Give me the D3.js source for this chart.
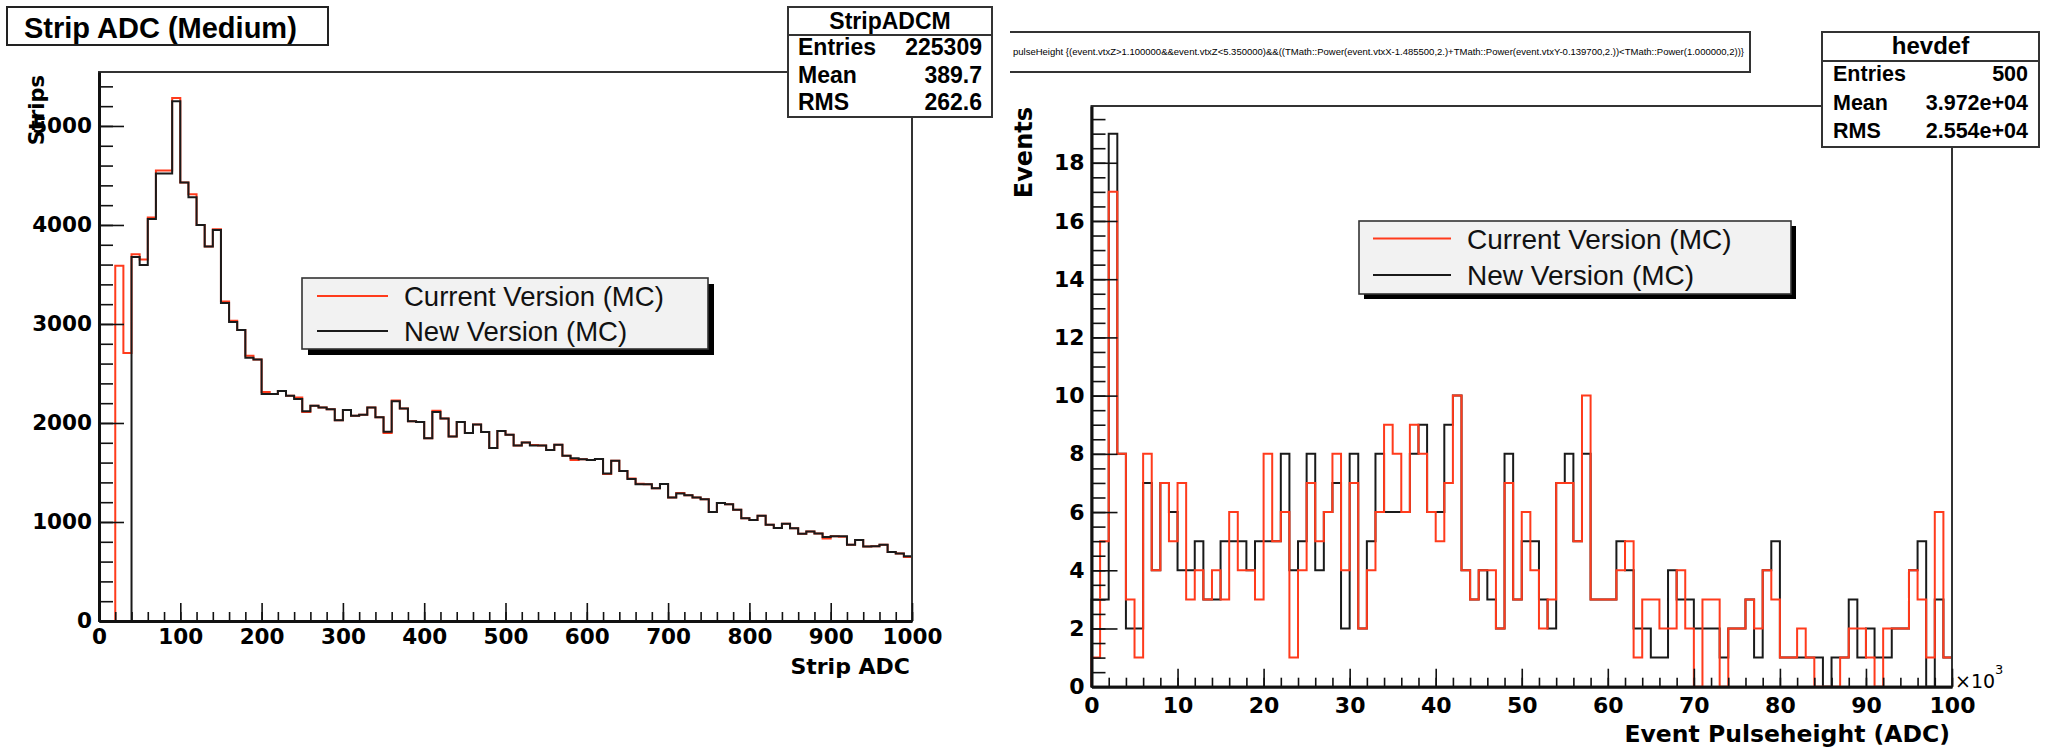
<!DOCTYPE html>
<html>
<head>
<meta charset="utf-8">
<script src="https://cdn.jsdelivr.net/npm/d3@7"></script>
<style>
  body { margin: 0; background: #fff; }
  svg { display: block; font-family: "Liberation Sans", Arial, Helvetica, sans-serif; }
  .axis text { font-family: "DejaVu Sans", sans-serif; font-weight: bold; fill: #000; }
  .axis line { stroke: #111; stroke-width: 1.6; }
  .axis .domain { stroke: #111; stroke-width: 3; }
  .lbl-l .tick text { font-size: 21.5px; }
  .lbl-r .tick text { font-size: 22px; }
</style>
</head>
<body>
<div id="chart"></div>
<script>
// left pad: Strip ADC, 100 bins of 10 ADC
var stripAdcCurrent = [0, 0, 3587, 2706, 3703, 3650, 4075, 4549, 4549, 5283,
  4428, 4310, 4000, 3783, 3956, 3226, 3033, 2940, 2680, 2640,
  2312, 2294, 2323, 2275, 2257, 2112, 2174, 2156, 2138, 2028,
  2130, 2073, 2083, 2156, 2057, 1900, 2228, 2147, 2018, 2011,
  1846, 2123, 2046, 1864, 2011, 1899, 1985, 1908, 1747, 1919,
  1882, 1772, 1802, 1778, 1772, 1728, 1780, 1670, 1626, 1633,
  1626, 1637, 1485, 1618, 1516, 1440, 1386, 1380, 1340, 1383,
  1248, 1292, 1270, 1248, 1229, 1101, 1193, 1178, 1123, 1039,
  1020, 1064, 972, 939, 983, 936, 881, 903, 884, 833,
  855, 850, 771, 818, 752, 756, 771, 697, 683, 646];
var stripAdcNew = [0, 0, 0, 0, 3677, 3596, 4061, 4519, 4519, 5250,
  4428, 4281, 4000, 3783, 3950, 3212, 3020, 2940, 2660, 2640,
  2294, 2294, 2323, 2275, 2242, 2119, 2174, 2156, 2138, 2028,
  2130, 2073, 2083, 2156, 2057, 1911, 2220, 2147, 2018, 2011,
  1846, 2112, 2046, 1864, 2011, 1899, 1985, 1908, 1747, 1919,
  1882, 1772, 1802, 1772, 1772, 1728, 1780, 1670, 1644, 1633,
  1626, 1637, 1490, 1618, 1516, 1435, 1380, 1380, 1340, 1383,
  1248, 1288, 1270, 1248, 1229, 1101, 1193, 1178, 1123, 1039,
  1020, 1064, 972, 939, 983, 936, 881, 903, 884, 848,
  855, 855, 771, 818, 752, 756, 771, 697, 683, 653];
var stripXTicks = [0, 100, 200, 300, 400, 500, 600, 700, 800, 900, 1000];
var stripYTicks = [0, 1000, 2000, 3000, 4000, 5000];
var stripStats = [['Entries', '225309'], ['Mean', '389.7'], ['RMS', '262.6']];

// right pad: event pulseheight, 100 bins of 1000 ADC
var pulseCurrent = [1, 5, 17, 8, 3, 1, 8, 4, 7, 5,
  7, 3, 4, 3, 4, 3, 6, 4, 4, 3,
  8, 5, 6, 1, 4, 7, 5, 6, 8, 4,
  7, 2, 4, 6, 9, 8, 6, 9, 8, 6,
  5, 7, 10, 4, 3, 4, 4, 2, 7, 3,
  6, 4, 2, 3, 7, 7, 5, 10, 3, 3,
  3, 4, 5, 1, 3, 3, 2, 2, 4, 2,
  0, 3, 3, 0, 2, 2, 3, 2, 4, 3,
  1, 1, 2, 1, 0, 0, 0, 1, 2, 2,
  1, 0, 2, 2, 2, 4, 3, 1, 6, 1];
var pulseNew = [3, 3, 19, 8, 2, 2, 7, 4, 7, 6,
  4, 4, 5, 3, 3, 5, 5, 5, 4, 5,
  5, 5, 8, 4, 5, 8, 4, 6, 7, 2,
  8, 2, 5, 8, 6, 6, 6, 8, 9, 6,
  6, 9, 10, 4, 3, 4, 3, 2, 8, 3,
  5, 5, 3, 2, 7, 8, 5, 8, 3, 3,
  3, 5, 4, 2, 2, 1, 1, 4, 3, 3,
  2, 2, 2, 1, 2, 2, 3, 1, 4, 5,
  1, 1, 1, 1, 1, 0, 1, 1, 3, 1,
  2, 1, 1, 2, 2, 4, 5, 0, 3, 1];
var pulseXTicks = [0, 10, 20, 30, 40, 50, 60, 70, 80, 90, 100];
var pulseYTicks = [0, 2, 4, 6, 8, 10, 12, 14, 16, 18];
var pulseStats = [['Entries', '500'], ['Mean', '3.972e+04'], ['RMS', '2.554e+04']];

var legendLabels = ['Current Version (MC)', 'New Version (MC)'];
var cutText = 'pulseHeight {(event.vtxZ>1.100000&&event.vtxZ<5.350000)&&((TMath::Power(event.vtxX-1.485500,2.)+TMath::Power(event.vtxY-0.139700,2.))<TMath::Power(1.000000,2))}';

(function (window, d3) {
  'use strict';

  var RED = '#ff3b1c';
  var BLACK = '#1a1a1a';

  var svg = d3.select('#chart').append('svg')
    .attr('width', 2051)
    .attr('height', 751);

  // outline of a 1D histogram, ROOT style
  var drawHist = function (g, values, x, y, binWidth, color) {
    var pts = [[0, 0]];
    values.forEach(function (v, i) {
      pts.push([i * binWidth, v], [(i + 1) * binWidth, v]);
    });
    pts.push([values.length * binWidth, 0]);
    g.append('path')
      .datum(pts)
      .attr('fill', 'none')
      .attr('stroke', color)
      .attr('stroke-width', 2)
      .attr('d', d3.line()
        .x(function (d) { return x(d[0]); })
        .y(function (d) { return y(d[1]); }));
  };

  var drawAxes = function (o) {
    var x = o.x, y = o.y;
    // frame
    svg.append('rect')
      .attr('x', x.range()[0]).attr('y', y.range()[1])
      .attr('width', x.range()[1] - x.range()[0])
      .attr('height', y.range()[0] - y.range()[1])
      .attr('fill', 'none').attr('stroke', '#333').attr('stroke-width', 2);

    svg.append('g').attr('class', 'axis')
      .attr('transform', 'translate(' + x.range()[0] + ',0)')
      .call(d3.axisLeft(y).tickValues(o.yMinor).tickSize(-o.yMinorLen).tickFormat(''))
      .call(function (g) { g.select('.domain').remove(); });
    svg.append('g').attr('class', 'axis ' + o.cls)
      .attr('transform', 'translate(' + x.range()[0] + ',0)')
      .call(d3.axisLeft(y).tickValues(o.yTicks).tickSize(-o.yMajorLen).tickSizeOuter(0)
        .tickPadding(o.yPad).tickFormat(d3.format('d')));

    svg.append('g').attr('class', 'axis')
      .attr('transform', 'translate(0,' + y.range()[0] + ')')
      .call(d3.axisBottom(x).tickValues(o.xMinor).tickSize(-o.xMinorLen).tickFormat(''))
      .call(function (g) { g.select('.domain').remove(); });
    svg.append('g').attr('class', 'axis ' + o.cls)
      .attr('transform', 'translate(0,' + y.range()[0] + ')')
      .call(d3.axisBottom(x).tickValues(o.xTicks).tickSize(-o.xMajorLen).tickSizeOuter(0)
        .tickPadding(o.xPad).tickFormat(d3.format('d')));
  };

  var drawLegend = function (box, items) {
    var g = svg.append('g');
    g.append('rect')
      .attr('x', box.x + box.shadow).attr('y', box.y + box.shadow)
      .attr('width', box.w).attr('height', box.h)
      .attr('fill', '#000');
    g.append('rect')
      .attr('x', box.x).attr('y', box.y)
      .attr('width', box.w).attr('height', box.h)
      .attr('fill', '#f2f2f2').attr('stroke', '#333').attr('stroke-width', 1.6);
    items.forEach(function (it, i) {
      var cy = box.rows[i];
      g.append('line')
        .attr('x1', box.lx1).attr('x2', box.lx2)
        .attr('y1', cy).attr('y2', cy)
        .attr('stroke', it.color).attr('stroke-width', 2);
      g.append('text')
        .attr('x', box.tx).attr('y', cy + box.size * 0.36)
        .attr('font-size', box.size)
        .attr('fill', '#111')
        .text(it.label);
    });
  };

  var drawStats = function (box, title, rows) {
    var g = svg.append('g');
    g.append('rect')
      .attr('x', box.x).attr('y', box.y)
      .attr('width', box.w).attr('height', box.h)
      .attr('fill', '#fff').attr('stroke', '#333').attr('stroke-width', 2);
    g.append('line')
      .attr('x1', box.x).attr('x2', box.x + box.w)
      .attr('y1', box.div).attr('y2', box.div)
      .attr('stroke', '#333').attr('stroke-width', 2);
    g.append('text')
      .attr('x', box.x + box.w / 2).attr('y', box.titleY)
      .attr('text-anchor', 'middle')
      .attr('font-size', box.titleSize).attr('font-weight', 'bold')
      .text(title);
    rows.forEach(function (r, i) {
      g.append('text')
        .attr('x', box.x + box.pad).attr('y', box.rowY[i])
        .attr('font-size', box.size).attr('font-weight', 'bold')
        .text(r[0]);
      g.append('text')
        .attr('x', box.x + box.w - box.pad).attr('y', box.rowY[i])
        .attr('text-anchor', 'end')
        .attr('font-size', box.size).attr('font-weight', 'bold')
        .text(r[1]);
    });
  };

  // ---------- left pad ----------
  var xL = d3.scaleLinear().domain([0, 1000]).range([99, 912]);
  var yL = d3.scaleLinear().domain([0, 5545]).range([621, 72]);

  var gL = svg.append('g');
  drawHist(gL, stripAdcCurrent, xL, yL, 10, RED);
  drawHist(gL, stripAdcNew, xL, yL, 10, BLACK);

  drawAxes({
    x: xL, y: yL, cls: 'lbl-l',
    yTicks: stripYTicks, yMinor: d3.range(0, 5401, 200), yMajorLen: 25, yMinorLen: 14, yPad: 7,
    xTicks: stripXTicks, xMinor: d3.range(0, 1001, 20), xMajorLen: 18, xMinorLen: 9, xPad: 8
  });

  svg.append('text')
    .attr('transform', 'translate(44,75) rotate(-90)')
    .attr('text-anchor', 'end')
    .attr('font-family', '"DejaVu Sans", sans-serif')
    .attr('font-weight', 'bold').attr('font-size', 21)
    .text('Strips');
  svg.append('text')
    .attr('x', 910).attr('y', 674)
    .attr('text-anchor', 'end')
    .attr('font-family', '"DejaVu Sans", sans-serif')
    .attr('font-weight', 'bold').attr('font-size', 22)
    .text('Strip ADC');

  drawLegend({ x: 302, y: 278, w: 406, h: 71, shadow: 6, lx1: 317, lx2: 388, tx: 404,
    rows: [296, 331], size: 27.5 },
    [{ label: legendLabels[0], color: RED }, { label: legendLabels[1], color: BLACK }]);

  // title box
  svg.append('rect')
    .attr('x', 7).attr('y', 7).attr('width', 321).attr('height', 38)
    .attr('fill', '#fff').attr('stroke', '#222').attr('stroke-width', 2);
  svg.append('text')
    .attr('x', 24).attr('y', 38)
    .attr('font-size', 29).attr('font-weight', 'bold')
    .text('Strip ADC (Medium)');

  drawStats({ x: 788, y: 7, w: 204, h: 110, div: 35, titleY: 29, titleSize: 23,
    pad: 10, rowY: [55, 83, 110], size: 23 }, 'StripADCM', stripStats);

  // ---------- right pad ----------
  var xR = d3.scaleLinear().domain([0, 100]).range([1091.5, 1952]);
  var yR = d3.scaleLinear().domain([0, 19.95]).range([686.7, 106]);

  var gR = svg.append('g');
  drawHist(gR, pulseNew, xR, yR, 1, BLACK);
  drawHist(gR, pulseCurrent, xR, yR, 1, RED);

  drawAxes({
    x: xR, y: yR, cls: 'lbl-r',
    yTicks: pulseYTicks, yMinor: d3.range(0, 19.6, 0.5), yMajorLen: 26, yMinorLen: 14, yPad: 7,
    xTicks: pulseXTicks, xMinor: d3.range(0, 101, 2), xMajorLen: 18, xMinorLen: 9, xPad: 11
  });

  var expo = svg.append('text')
    .attr('x', 1955).attr('y', 688)
    .attr('font-family', '"DejaVu Sans", sans-serif')
    .attr('font-size', 19);
  expo.append('tspan').text('\u00d710');
  expo.append('tspan').attr('dy', -14).attr('font-size', 13).text('3');

  svg.append('text')
    .attr('transform', 'translate(1032,107) rotate(-90)')
    .attr('text-anchor', 'end')
    .attr('font-family', '"DejaVu Sans", sans-serif')
    .attr('font-weight', 'bold').attr('font-size', 24)
    .text('Events');
  svg.append('text')
    .attr('x', 1950).attr('y', 742)
    .attr('text-anchor', 'end')
    .attr('font-family', '"DejaVu Sans", sans-serif')
    .attr('font-weight', 'bold').attr('font-size', 23.5)
    .text('Event Pulseheight (ADC)');

  drawLegend({ x: 1359, y: 221, w: 432, h: 73, shadow: 5, lx1: 1373, lx2: 1451, tx: 1467,
    rows: [238.5, 275], size: 28 },
    [{ label: legendLabels[0], color: RED }, { label: legendLabels[1], color: BLACK }]);

  // cut expression box (left side clipped by the pad)
  svg.append('rect')
    .attr('x', 1008).attr('y', 32).attr('width', 742).attr('height', 40)
    .attr('fill', '#fff');
  svg.append('path')
    .attr('d', 'M1010,32H1750V72H1010')
    .attr('fill', 'none').attr('stroke', '#333').attr('stroke-width', 2);
  svg.append('text')
    .attr('x', 1013).attr('y', 55)
    .attr('font-size', 9)
    .attr('textLength', 731).attr('lengthAdjust', 'spacingAndGlyphs')
    .text(cutText);

  drawStats({ x: 1822, y: 32, w: 217, h: 115, div: 61, titleY: 54, titleSize: 24,
    pad: 11, rowY: [81, 110, 138], size: 21.5 }, 'hevdef', pulseStats);

})(window, window.d3);
</script>
</body>
</html>
